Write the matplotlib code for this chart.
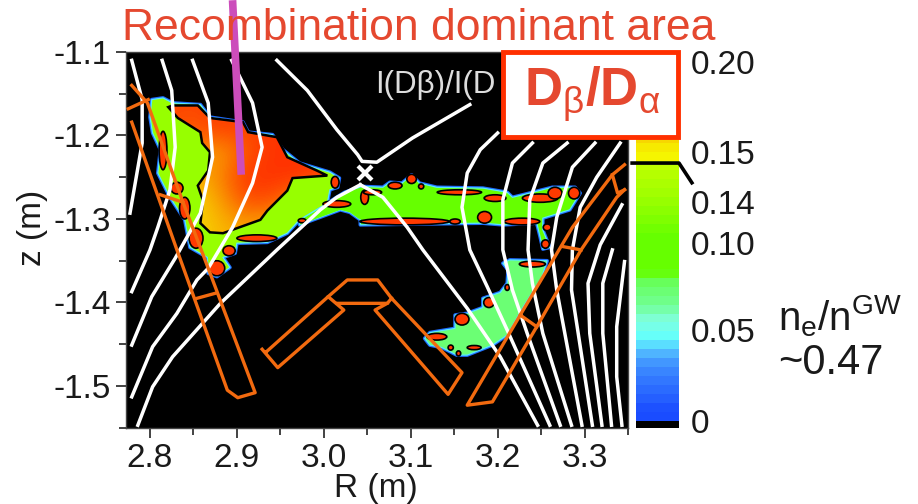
import matplotlib
matplotlib.use("Agg")
import matplotlib.pyplot as plt
import numpy as np
from matplotlib.colors import LinearSegmentedColormap, Normalize
from matplotlib.patches import Polygon, Ellipse, Rectangle

plt.rcParams['font.family'] = ['Liberation Sans', 'DejaVu Sans']
plt.rcParams['mathtext.fontset'] = 'custom'
plt.rcParams['mathtext.rm'] = 'Liberation Sans'
plt.rcParams['mathtext.it'] = 'Liberation Sans'
plt.rcParams['mathtext.bf'] = 'Liberation Sans:bold'

W, H = 918, 504
TEXT_RED = '#e5482f'
ORANGE = '#f26a0f'

# ---------- colour scale ----------
cmap_values = [0.0, 0.005, 0.03, 0.04, 0.045, 0.056, 0.066, 0.079, 0.083, 0.103, 0.123, 0.144, 0.146, 0.15, 0.2]
cmap_colors = ['#1a4cff', '#1a4cff', '#3d8cff', '#55c0ff', '#60ffff', '#80ffdd', '#70ff90', '#66ff55',
               '#66ff00', '#66ff00', '#99ff00', '#c0ff00', '#f5f500', '#f5f500', '#ff3300']
cbar_labels = ['0.20', '0.15', '0.14', '0.10', '0.05', '0']
cbar_label_values = [0.1983, 0.148, 0.1203, 0.0972, 0.0486, -0.0017]

# ---------- field regions (R, z) ----------
main_R = [2.802, 2.815, 2.826, 2.858, 2.869, 2.907, 2.913, 2.941, 2.953, 2.972, 3.007, 3.018, 3.016, 3.007,
          3.004, 2.972, 2.958, 2.935, 2.900, 2.898, 2.884, 2.892, 2.877, 2.867, 2.866, 2.846, 2.840, 2.823,
          2.809, 2.812, 2.803, 2.800]
main_z = [-1.157, -1.155, -1.161, -1.163, -1.178, -1.184, -1.196, -1.199, -1.217, -1.233, -1.244, -1.251,
          -1.262, -1.265, -1.281, -1.301, -1.317, -1.328, -1.329, -1.341, -1.346, -1.358, -1.369, -1.365,
          -1.346, -1.334, -1.301, -1.274, -1.245, -1.217, -1.197, -1.178]
strip_R = [3.004, 3.024, 3.044, 3.068, 3.076, 3.090, 3.101, 3.110, 3.130, 3.183, 3.211, 3.217, 3.229, 3.263,
           3.289, 3.295, 3.283, 3.252, 3.252, 3.260, 3.252, 3.249, 3.245, 3.206, 3.183, 3.042, 3.042, 3.030,
           3.019, 2.972, 2.972]
strip_z = [-1.281, -1.268, -1.261, -1.262, -1.256, -1.257, -1.247, -1.257, -1.262, -1.263, -1.268, -1.274,
           -1.271, -1.262, -1.262, -1.269, -1.289, -1.299, -1.313, -1.334, -1.336, -1.322, -1.305, -1.307,
           -1.305, -1.307, -1.301, -1.292, -1.289, -1.307, -1.301]
lower_R = [3.206, 3.214, 3.257, 3.251, 3.239, 3.226, 3.211, 3.194, 3.165, 3.153, 3.136, 3.122, 3.116, 3.122,
           3.151, 3.151, 3.165, 3.183, 3.183, 3.203, 3.211, 3.212]
lower_z = [-1.353, -1.349, -1.350, -1.369, -1.389, -1.411, -1.439, -1.451, -1.463, -1.463, -1.454, -1.451,
           -1.443, -1.436, -1.431, -1.415, -1.413, -1.406, -1.395, -1.388, -1.377, -1.361]
main_value, strip_value, lower_value = 0.122, 0.103, 0.072

core_R = [2.821, 2.832, 2.858, 2.860, 2.869, 2.867, 2.855, 2.861, 2.858, 2.869, 2.884, 2.927, 2.935, 2.958,
          2.964, 3.004, 2.992, 2.958, 2.946, 2.913, 2.907, 2.869, 2.855, 2.826]
core_z = [-1.166, -1.179, -1.196, -1.209, -1.220, -1.242, -1.260, -1.278, -1.305, -1.316, -1.317, -1.301,
          -1.290, -1.266, -1.251, -1.248, -1.242, -1.226, -1.202, -1.196, -1.184, -1.179, -1.164, -1.164]
core_grid_R = [2.82, 2.85, 2.88, 2.91, 2.94, 2.97, 3.00]
core_grid_z = [-1.16, -1.19, -1.22, -1.25, -1.28, -1.31]
core_values = [[.195, .195, .195, .195, .195, .195, .195],
               [.195, .190, .200, .195, .200, .200, .200],
               [.180, .180, .170, .190, .200, .200, .200],
               [.165, .165, .178, .200, .200, .200, .195],
               [.160, .157, .170, .192, .192, .175, .165],
               [.160, .157, .165, .170, .165, .160, .160]]

spot_R = [2.815, 2.831, 2.840, 2.853, 3.013, 3.015, 3.047, 3.093, 3.151, 2.923, 2.891, 2.877, 2.975, 3.056,
          3.082, 3.101, 3.112, 3.156, 3.197, 3.249, 3.266, 3.288, 3.185, 3.228, 3.257, 3.255, 3.240, 3.130,
          3.159, 3.190, 3.211, 3.146, 3.155, 3.173]
spot_z = [-1.218, -1.263, -1.287, -1.323, -1.256, -1.282, -1.274, -1.303, -1.303, -1.323, -1.338, -1.359,
          -1.302, -1.268, -1.260, -1.252, -1.261, -1.268, -1.275, -1.275, -1.269, -1.269, -1.298, -1.303,
          -1.310, -1.330, -1.354, -1.441, -1.420, -1.400, -1.382, -1.454, -1.461, -1.454]
spot_dR = [.009, .014, .012, .016, .009, .032, .009, .103, .012, .046, .014, .018, .009, .021, .016, .011,
           .006, .051, .025, .041, .016, .013, .016, .041, .009, .009, .030, .023, .016, .012, .005, .006,
           .005, .016]
spot_dz = [.046, .014, .026, .024, .014, .008, .017, .008, .006, .008, .012, .018, .005, .006, .008, .011,
           .006, .006, .008, .010, .014, .014, .014, .008, .008, .010, .007, .008, .014, .012, .007, .006,
           .006, .005]

# ---------- flux surfaces (R, z) ----------
flux_lines = [
    ([2.779, 2.791, 2.791, 2.777], [-1.110, -1.157, -1.209, -1.293]),
    ([2.814, 2.825, 2.829, 2.823, 2.809, 2.800, 2.779], [-1.110, -1.146, -1.214, -1.265, -1.310, -1.337, -1.387]),
    ([2.849, 2.867, 2.872, 2.858, 2.829, 2.802, 2.779], [-1.110, -1.161, -1.226, -1.293, -1.347, -1.393, -1.451]),
    ([2.894, 2.918, 2.929, 2.918, 2.895, 2.867, 2.854, 2.831, 2.803, 2.779],
     [-1.110, -1.161, -1.214, -1.257, -1.310, -1.359, -1.373, -1.413, -1.453, -1.513]),
    ([3.042, 3.015, 2.996, 2.946, 2.881, 2.826, 2.803, 2.786],
     [-1.259, -1.274, -1.289, -1.337, -1.401, -1.465, -1.501, -1.547]),
    ([2.946, 2.981, 3.015, 3.039, 3.044, 3.061, 3.102, 3.168],
     [-1.110, -1.146, -1.193, -1.223, -1.231, -1.232, -1.203, -1.163]),
    ([3.042, 3.068, 3.096, 3.114, 3.165, 3.203, 3.246],
     [-1.259, -1.274, -1.310, -1.337, -1.407, -1.465, -1.547]),
    ([3.200, 3.180, 3.165, 3.159, 3.168, 3.188, 3.211, 3.260],
     [-1.197, -1.217, -1.245, -1.286, -1.337, -1.381, -1.433, -1.547]),
    ([3.240, 3.217, 3.206, 3.206, 3.217, 3.234, 3.272],
     [-1.209, -1.233, -1.277, -1.337, -1.385, -1.437, -1.547]),
    ([3.280, 3.252, 3.237, 3.235, 3.240, 3.252, 3.285],
     [-1.209, -1.233, -1.277, -1.337, -1.377, -1.437, -1.547]),
    ([3.312, 3.286, 3.268, 3.262, 3.268, 3.297],
     [-1.209, -1.238, -1.298, -1.337, -1.385, -1.547]),
    ([3.341, 3.314, 3.295, 3.286, 3.285, 3.309],
     [-1.209, -1.250, -1.286, -1.337, -1.385, -1.547]),
    ([3.343, 3.318, 3.304, 3.306, 3.320],
     [-1.283, -1.331, -1.377, -1.437, -1.547]),
    ([3.332, 3.321, 3.321, 3.331],
     [-1.337, -1.377, -1.437, -1.547]),
    ([3.346, 3.337, 3.337, 3.343],
     [-1.351, -1.429, -1.489, -1.547]),
]
xpoint_R = [3.047]
xpoint_z = [-1.245]

# ---------- divertor structures (R, z) ----------
plate_left_R = [2.779, 2.797, 2.838, 2.867, 2.921, 2.901, 2.889, 2.831, 2.779]
plate_left_z = [-1.140, -1.161, -1.280, -1.359, -1.508, -1.514, -1.505, -1.337, -1.184]
dome_left_R = [2.929, 2.947, 3.023, 3.005, 2.935]
dome_left_z = [-1.456, -1.478, -1.409, -1.393, -1.458]
dome_top_R = [3.005, 3.027, 3.062, 3.078]
dome_top_z = [-1.393, -1.373, -1.373, -1.395]
dome_inner_R = [3.015, 3.073, 3.078]
dome_inner_z = [-1.401, -1.401, -1.395]
dome_right_R = [3.078, 3.159, 3.143, 3.059, 3.073]
dome_right_z = [-1.395, -1.484, -1.510, -1.409, -1.401]
plate_right_R = [3.346, 3.332, 3.286, 3.226, 3.165, 3.194, 3.245, 3.296, 3.337, 3.346]
plate_right_z = [-1.235, -1.247, -1.310, -1.415, -1.523, -1.519, -1.429, -1.337, -1.274, -1.265]
cross_R = [[2.775, 2.798], [2.812, 2.838], [2.854, 2.875], [3.332, 3.338, 3.346], [3.275, 3.296], [3.226, 3.245]]
cross_z = [[-1.168, -1.157], [-1.271, -1.280], [-1.395, -1.389], [-1.247, -1.269, -1.265], [-1.333, -1.337], [-1.415, -1.429]]

probe_R = [2.895, 2.905]
probe_z = [-1.038, -1.247]

x_major = [2.8, 2.9, 3.0, 3.1, 3.2, 3.3]
x_minor = [2.85, 2.95, 3.05, 3.15, 3.25, 3.35]
y_major = [-1.1, -1.2, -1.3, -1.4, -1.5]
y_minor = [-1.15, -1.25, -1.35, -1.45, -1.55]

# ---------- figure ----------
def fx(px):
    return px / W

def fy(py):
    return 1 - py / H

fig = plt.figure(figsize=(W / 100, H / 100), dpi=100, facecolor='white')
ax = fig.add_axes([fx(126), fy(428), (628 - 126) / W, (428 - 52) / H], facecolor='black')
norm = Normalize(0, 0.2)
cmap = LinearSegmentedColormap.from_list('field', [(v / 0.2, c) for v, c in zip(cmap_values, cmap_colors)], N=256)
cmap.set_under('black')

# regions with a blue/cyan rim
for Rs, zs, val in [(strip_R, strip_z, strip_value), (lower_R, lower_z, lower_value), (main_R, main_z, main_value)]:
    pts = np.column_stack([Rs, zs])
    ax.add_patch(Polygon(pts, closed=True, fc='none', ec='#1f6cff', lw=2.6, zorder=1, joinstyle='round'))
    ax.add_patch(Polygon(pts, closed=True, fc=cmap(norm(val)), ec='#58e8ff', lw=0.9, zorder=2, joinstyle='round'))
ax.add_patch(Polygon(np.column_stack([strip_R[:2] + strip_R[-5:-1], strip_z[:2] + strip_z[-5:-1]]),
                     closed=True, fc=cmap(norm(strip_value)), ec='none', zorder=2.1))

# core of the recombination area
core_poly = Polygon(np.column_stack([core_R, core_z]), closed=True, fc='none', ec='black', lw=1.8,
                    zorder=3.2, transform=ax.transData)
ax.add_patch(core_poly)
im = ax.imshow(np.array(core_values), extent=[core_grid_R[0] - .015, core_grid_R[-1] + .015,
                                               core_grid_z[-1] - .015, core_grid_z[0] + .015],
               cmap=cmap, norm=norm, aspect='auto', interpolation='bicubic', origin='upper', zorder=3)
im.set_clip_path(core_poly)

for r, z, dr, dz in zip(spot_R, spot_z, spot_dR, spot_dz):
    ax.add_patch(Ellipse((r, z), dr, dz, fc='#ff3a00', ec='black', lw=1.2, zorder=3.5))

for Rs, zs in flux_lines:
    ax.plot(Rs, zs, color='white', lw=2.5, zorder=4, solid_joinstyle='round')
ax.plot(xpoint_R, xpoint_z, marker='x', ms=10, mew=3, color='white', zorder=4, ls='none')

for Rs, zs in [(plate_left_R, plate_left_z), (dome_left_R, dome_left_z), (dome_top_R, dome_top_z),
               (dome_inner_R, dome_inner_z), (dome_right_R, dome_right_z), (plate_right_R, plate_right_z)]:
    ax.plot(Rs, zs, color=ORANGE, lw=2.4, zorder=5, solid_joinstyle='round')
for Rs, zs in zip(cross_R, cross_z):
    ax.plot(Rs, zs, color=ORANGE, lw=2.4, zorder=5)

ax.plot(probe_R, probe_z, color='#cc4dbb', lw=5.5, solid_capstyle='butt', clip_on=False, zorder=6)
ax.text(3.059, -1.140, 'I(D\u03b2)/I(D', color='#dddddd', fontsize=22.5, zorder=5, ha='left', va='center')

ax.set_xlim(2.7724, 3.350)
ax.set_ylim(-1.5503, -1.1)
ax.set_xticks(x_major)
ax.set_xticks(x_minor, minor=True)
ax.set_yticks(y_major)
ax.set_yticks(y_minor, minor=True)
ax.set_xticklabels([f'{v:.1f}' for v in x_major])
ax.set_yticklabels([f'-{abs(v):.1f}' for v in y_major])
ax.tick_params(which='major', length=7, width=1.2, labelsize=24, pad=4, color='#222222', labelcolor='#1a1a1a')
ax.tick_params(which='minor', length=5, width=1.2, color='#222222')
for s in ax.spines.values():
    s.set_color('#444444')
    s.set_linewidth(1)
fig.text(fx(376), fy(488), 'R (m)', fontsize=24, ha='center', va='center', color='#1a1a1a')
fig.text(fx(32), fy(228), 'z (m)', fontsize=24, ha='center', va='center', rotation=90, color='#1a1a1a')

# colour bar
cax = fig.add_axes([fx(636), fy(428), (679 - 636) / W, (428 - 52) / H])
edges = np.arange(0, 0.2101, 0.005)
mids = (edges[:-1] + edges[1:]) / 2
cax.set_facecolor('black')
cax.pcolormesh([0, 1], edges, mids[:, None], cmap=cmap, norm=norm, shading='flat')
cax.set_ylim(-0.0039, 0.206)
cax.set_xlim(0, 1)
cax.set_xticks([])
cax.set_yticks([])
for s in cax.spines.values():
    s.set_visible(False)
cax.plot([-0.09, 1.0, 1.3], [0.144, 0.144, 0.133], color='black', lw=2.6, clip_on=False, zorder=5)
for lab, v in zip(cbar_labels, cbar_label_values):
    cax.text(1.28, v, lab, fontsize=24, va='center', ha='left', color='#1a1a1a')

# annotations
fig.text(fx(122), fy(28), 'Recombination dominant area', color=TEXT_RED, fontsize=32, ha='left', va='center')
fig.add_artist(Rectangle((fx(503), fy(137)), (678 - 503) / W, (137 - 52) / H, transform=fig.transFigure,
                         fc='white', ec='#ff3000', lw=3.5, zorder=10))
fig.text(fx(592), fy(94), r'$\mathbf{D}_{\mathrm{\beta}}\mathbf{/D}_{\mathrm{\alpha}}$', color=TEXT_RED,
         fontsize=38, ha='center', va='center', zorder=11)
fig.text(fx(778), fy(316), r'n$_{\mathrm{e}}$/n$^{\mathrm{GW}}$', fontsize=29, ha='left', va='center', color='#1a1a1a')
fig.text(fx(778), fy(363), '~0.47', fontsize=30, ha='left', va='center', color='#1a1a1a')

fig.savefig('out.png', dpi=100)
